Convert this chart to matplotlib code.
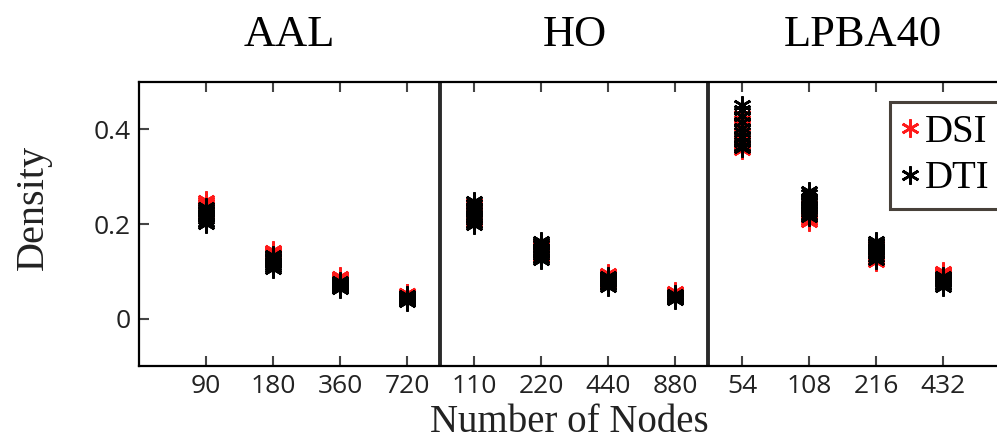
import numpy as np
import matplotlib
matplotlib.use("Agg")
import matplotlib.pyplot as plt

# tick labels (number of nodes) for the three atlases
atlases = ["AAL", "HO", "LPBA40"]
node_labels = ["90", "180", "360", "720",
               "110", "220", "440", "880",
               "54", "108", "216", "432"]

# density per subject, one list per parcellation
dsi = [
    [0.250, 0.246, 0.242, 0.238, 0.234, 0.230, 0.226, 0.222, 0.218, 0.215],
    [0.146, 0.143, 0.140, 0.138, 0.136, 0.134, 0.132, 0.130, 0.127, 0.125],
    [0.091, 0.089, 0.087, 0.085, 0.083, 0.081, 0.079, 0.077, 0.076, 0.075],
    [0.055, 0.054, 0.053, 0.052, 0.051, 0.050, 0.049, 0.047, 0.046, 0.045],
    [0.245, 0.240, 0.235, 0.230, 0.226, 0.222, 0.218, 0.214, 0.210, 0.205],
    [0.160, 0.156, 0.152, 0.148, 0.145, 0.142, 0.139, 0.136, 0.132, 0.128],
    [0.097, 0.095, 0.092, 0.089, 0.087, 0.084, 0.082, 0.080, 0.078, 0.075],
    [0.059, 0.057, 0.055, 0.053, 0.052, 0.050, 0.049, 0.048, 0.046, 0.045],
    [0.430, 0.420, 0.410, 0.400, 0.392, 0.385, 0.378, 0.370, 0.362, 0.357],
    [0.240, 0.236, 0.232, 0.228, 0.224, 0.220, 0.216, 0.212, 0.208, 0.205],
    [0.155, 0.151, 0.147, 0.143, 0.139, 0.135, 0.131, 0.127, 0.123, 0.120],
    [0.100, 0.098, 0.096, 0.094, 0.092, 0.090, 0.088, 0.086, 0.083, 0.080],
]
dti = [
    [0.235, 0.231, 0.228, 0.225, 0.222, 0.218, 0.214, 0.210, 0.205, 0.200],
    [0.135, 0.132, 0.129, 0.126, 0.123, 0.120, 0.117, 0.114, 0.110, 0.106],
    [0.080, 0.078, 0.076, 0.074, 0.072, 0.070, 0.068, 0.066, 0.064, 0.063],
    [0.050, 0.048, 0.047, 0.045, 0.044, 0.042, 0.041, 0.039, 0.038, 0.036],
    [0.249, 0.243, 0.237, 0.231, 0.225, 0.219, 0.213, 0.208, 0.203, 0.199],
    [0.165, 0.160, 0.155, 0.150, 0.146, 0.142, 0.138, 0.134, 0.129, 0.125],
    [0.090, 0.088, 0.086, 0.084, 0.082, 0.080, 0.077, 0.074, 0.071, 0.068],
    [0.052, 0.051, 0.050, 0.049, 0.047, 0.046, 0.045, 0.043, 0.042, 0.040],
    [0.452, 0.440, 0.428, 0.416, 0.404, 0.394, 0.384, 0.374, 0.365, 0.360],
    [0.270, 0.263, 0.256, 0.250, 0.244, 0.238, 0.232, 0.226, 0.220, 0.215],
    [0.165, 0.161, 0.157, 0.153, 0.149, 0.145, 0.141, 0.137, 0.131, 0.125],
    [0.090, 0.088, 0.086, 0.084, 0.082, 0.080, 0.077, 0.074, 0.071, 0.068],
]

serif = ["Liberation Serif", "DejaVu Serif"]
asterisk = (6, 2, 0)

fig = plt.figure(figsize=(9.97, 4.45), dpi=100)
# axes runs past the right edge of the figure, like the cropped original
ax = fig.add_axes([0.1394, 0.1775, 0.8736, 0.638])

xpos = np.arange(1, len(node_labels) + 1)
for i, x in enumerate(xpos):
    ax.plot([x] * len(dsi[i]), dsi[i], linestyle="none", marker=asterisk,
            markersize=13, markeredgewidth=1.9, color="#ff1a1a",
            label="DSI" if i == 0 else None)
for i, x in enumerate(xpos):
    ax.plot([x] * len(dti[i]), dti[i], linestyle="none", marker=asterisk,
            markersize=13, markeredgewidth=1.9, color="black",
            label="DTI" if i == 0 else None)

# separators between atlases
for xs in (4.5, 8.5):
    ax.axvline(xs, color="#2a2a2a", linewidth=2.8)

ax.set_xlim(0, 13)
ax.set_ylim(-0.1, 0.5)
ax.set_xticks(xpos)
ax.set_xticklabels(node_labels)
ax.set_yticks([0, 0.2, 0.4])
ax.set_yticklabels(["0", "0.2", "0.4"])
ax.tick_params(direction="in", length=7, width=1.5, color="#444444",
               top=True, right=True, labelsize=19, pad=6)
for lbl in ax.get_xticklabels() + ax.get_yticklabels():
    lbl.set_family(["Open Sans", "DejaVu Sans"])
    lbl.set_color("#222222")
for s in ax.spines.values():
    s.set_linewidth(1.6)

leg = ax.legend(loc="upper left", bbox_to_anchor=(0.862, 0.93),
                prop={"family": serif, "size": 28}, frameon=True,
                fancybox=False, edgecolor="#1a1208", handlelength=0.45,
                handletextpad=0.15, borderpad=0.3, labelspacing=0.25,
                markerscale=1.0, borderaxespad=0)
leg.get_frame().set_linewidth(2.2)

# atlas titles
for name, xc in zip(atlases, [289, 575, 863]):
    fig.text(xc / 997, 1 - 46 / 445, name, family=serif, fontsize=32,
             ha="center", va="baseline")

fig.text(33 / 997, 1 - 207 / 445, "Density", family=serif, fontsize=29,
         rotation=90, ha="center", va="center", color="#222222")
fig.text(569 / 997, 1 - 422 / 445, "Number of Nodes", family=serif,
         fontsize=28, ha="center", va="center", color="#222222")

fig.savefig("out.png", dpi=100)
